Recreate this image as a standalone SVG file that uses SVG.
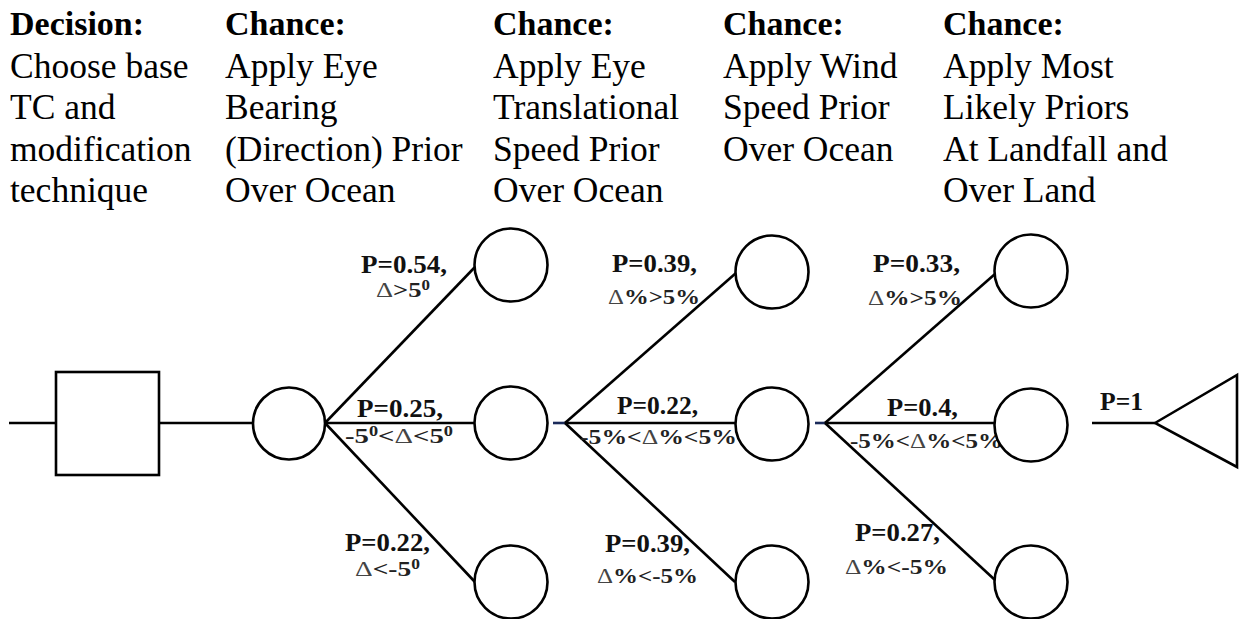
<svg xmlns="http://www.w3.org/2000/svg" width="1240" height="619" viewBox="0 0 1240 619">
<style>
.hd{font-family:'Liberation Serif','DejaVu Serif','Noto Serif',Tinos,'Times New Roman',Times,serif;font-size:34px;font-weight:bold;fill:#000}
.tx{font-family:'Liberation Serif','DejaVu Serif','Noto Serif',Tinos,'Times New Roman',Times,serif;font-size:35.5px;fill:#000}
.p{font-family:'Liberation Serif','DejaVu Serif','Noto Serif',Tinos,'Times New Roman',Times,serif;font-size:26px;font-weight:bold;fill:#111}
.c{font-family:'Liberation Serif','DejaVu Serif','Noto Serif',Tinos,'Times New Roman',Times,serif;font-size:22px;font-weight:bold;fill:#222}
.d{font-weight:normal;fill:#444}
.sh{fill:#fff;stroke:#000;stroke-width:2.6}
.ln{stroke:#000;stroke-width:2.6;fill:none}
.nv{stroke:#1a2a5a;stroke-width:2.6}
</style>
<rect width="1240" height="619" fill="#fff"/>
<g id="headers">
<text class="hd" x="10" y="35">Decision:</text>
<text class="tx" x="10" y="78">Choose base</text>
<text class="tx" x="10" y="119">TC and</text>
<text class="tx" x="10" y="161">modification</text>
<text class="tx" x="10" y="202">technique</text>
<text class="hd" x="225" y="35">Chance:</text>
<text class="tx" x="225" y="78">Apply Eye</text>
<text class="tx" x="225" y="119">Bearing</text>
<text class="tx" x="225" y="161">(Direction) Prior</text>
<text class="tx" x="225" y="202">Over Ocean</text>
<text class="hd" x="493" y="35">Chance:</text>
<text class="tx" x="493" y="78">Apply Eye</text>
<text class="tx" x="493" y="119">Translational</text>
<text class="tx" x="493" y="161">Speed Prior</text>
<text class="tx" x="493" y="202">Over Ocean</text>
<text class="hd" x="723" y="35">Chance:</text>
<text class="tx" x="723" y="78">Apply Wind</text>
<text class="tx" x="723" y="119">Speed Prior</text>
<text class="tx" x="723" y="161">Over Ocean</text>
<text class="hd" x="943" y="35">Chance:</text>
<text class="tx" x="943" y="78">Apply Most</text>
<text class="tx" x="943" y="119">Likely Priors</text>
<text class="tx" x="943" y="161">At Landfall and</text>
<text class="tx" x="943" y="202">Over Land</text>
</g>
<g id="connectors">
<line class="ln" x1="9" y1="423" x2="56" y2="423"/>
<line class="ln" x1="159" y1="423" x2="253" y2="423"/>
<line class="ln" x1="325" y1="423" x2="475" y2="267"/>
<line class="ln" x1="325" y1="423" x2="474" y2="423"/>
<line class="ln" x1="325" y1="423" x2="475" y2="582"/>
<line class="nv" x1="553" y1="423" x2="565" y2="423"/>
<line class="ln" x1="565" y1="423" x2="736" y2="273"/>
<line class="ln" x1="565" y1="423" x2="735" y2="423"/>
<line class="ln" x1="565" y1="423" x2="735" y2="582"/>
<line class="nv" x1="815" y1="423" x2="825" y2="423"/>
<line class="ln" x1="825" y1="423" x2="995" y2="274"/>
<line class="ln" x1="825" y1="423" x2="995" y2="423"/>
<line class="ln" x1="825" y1="423" x2="995" y2="580"/>
<line class="ln" x1="1092" y1="423" x2="1155" y2="423"/>
</g>
<g id="labels">
<text class="p" x="361" y="273" textLength="86" lengthAdjust="spacingAndGlyphs">P=0.54,</text>
<text class="c" x="376" y="297" textLength="54" lengthAdjust="spacingAndGlyphs"><tspan class="d">Δ</tspan>&gt;5<tspan font-size="14" dy="-7">0</tspan></text>
<text class="p" x="357" y="417" textLength="86" lengthAdjust="spacingAndGlyphs">P=0.25,</text>
<text class="c" x="345" y="443" textLength="108" lengthAdjust="spacingAndGlyphs">-5<tspan font-size="14" dy="-7">0</tspan><tspan dy="7">&lt;</tspan><tspan class="d">Δ</tspan>&lt;5<tspan font-size="14" dy="-7">0</tspan></text>
<text class="p" x="345" y="551" textLength="85" lengthAdjust="spacingAndGlyphs">P=0.22,</text>
<text class="c" x="355" y="576" textLength="65" lengthAdjust="spacingAndGlyphs"><tspan class="d">Δ</tspan>&lt;-5<tspan font-size="14" dy="-7">0</tspan></text>
<text class="p" x="612" y="272" textLength="85" lengthAdjust="spacingAndGlyphs">P=0.39,</text>
<text class="c" x="608" y="304" textLength="92" lengthAdjust="spacingAndGlyphs"><tspan class="d">Δ</tspan>%&gt;5%</text>
<text class="p" x="617" y="414" textLength="81" lengthAdjust="spacingAndGlyphs">P=0.22,</text>
<text class="c" x="580" y="444" textLength="157" lengthAdjust="spacingAndGlyphs">-5%&lt;<tspan class="d">Δ</tspan>%&lt;5%</text>
<text class="p" x="605" y="552" textLength="85" lengthAdjust="spacingAndGlyphs">P=0.39,</text>
<text class="c" x="597" y="583" textLength="101" lengthAdjust="spacingAndGlyphs"><tspan class="d">Δ</tspan>%&lt;-5%</text>
<text class="p" x="873" y="272" textLength="87" lengthAdjust="spacingAndGlyphs">P=0.33,</text>
<text class="c" x="868" y="305" textLength="94" lengthAdjust="spacingAndGlyphs"><tspan class="d">Δ</tspan>%&gt;5%</text>
<text class="p" x="887" y="416" textLength="71" lengthAdjust="spacingAndGlyphs">P=0.4,</text>
<text class="c" x="850" y="448" textLength="153" lengthAdjust="spacingAndGlyphs">-5%&lt;<tspan class="d">Δ</tspan>%&lt;5%</text>
<text class="p" x="855" y="541" textLength="85" lengthAdjust="spacingAndGlyphs">P=0.27,</text>
<text class="c" x="845" y="574" textLength="103" lengthAdjust="spacingAndGlyphs"><tspan class="d">Δ</tspan>%&lt;-5%</text>
<text class="p" x="1100" y="410" textLength="43" lengthAdjust="spacingAndGlyphs">P=1</text>
</g>
<g id="decision"><rect class="sh" x="56" y="372" width="103" height="103"/></g>
<g id="chance0"><circle class="sh" cx="289" cy="423.5" r="36"/></g>
<g id="chance1a"><circle class="sh" cx="511" cy="265" r="36.5"/></g>
<g id="chance1b"><circle class="sh" cx="511" cy="423" r="36.5"/></g>
<g id="chance1c"><circle class="sh" cx="511" cy="582" r="36.5"/></g>
<g id="chance2a"><circle class="sh" cx="772" cy="272" r="36.5"/></g>
<g id="chance2b"><circle class="sh" cx="772" cy="424" r="36.5"/></g>
<g id="chance2c"><circle class="sh" cx="772" cy="582" r="36.5"/></g>
<g id="chance3a"><circle class="sh" cx="1031" cy="271" r="36.5"/></g>
<g id="chance3b"><circle class="sh" cx="1031" cy="425" r="36.5"/></g>
<g id="chance3c"><circle class="sh" cx="1031" cy="582" r="36.5"/></g>
<g id="terminal"><polygon class="sh" points="1155,423 1237,375 1237,467"/></g>
</svg>
